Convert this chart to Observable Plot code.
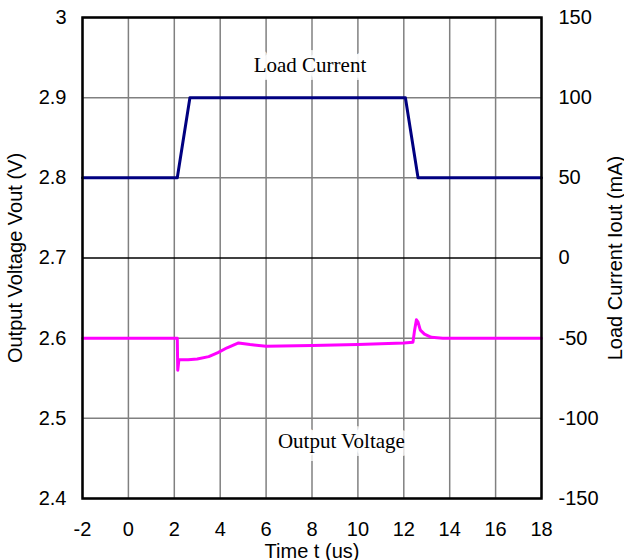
<!DOCTYPE html>
<html><head><meta charset="utf-8">
<script src="https://cdn.jsdelivr.net/npm/d3@7"></script>
<script src="https://cdn.jsdelivr.net/npm/@observablehq/plot@0.6"></script>
<style>body{margin:0;background:#fff}</style>
</head><body><div id="chart"></div>
<script>
// Load current (right axis, mA)
const currentT  = [-2, 2.13, 2.68, 12.07, 12.62, 18];
const currentMA = [50, 50, 100, 100, 50, 50];
// Output voltage (left axis, V)
const voltageT = [-2, 2.13, 2.15, 2.2, 2.6, 3.0, 3.5, 3.9, 4.3, 4.8, 5.3, 6.0, 8.0, 10.0, 12.0, 12.4, 12.47, 12.55, 12.62, 12.72, 12.9, 13.2, 13.7, 15, 18];
const voltageV = [2.600, 2.600, 2.560, 2.573, 2.573, 2.574, 2.577, 2.582, 2.588, 2.594, 2.592, 2.590, 2.591, 2.592, 2.594, 2.595, 2.610, 2.623, 2.620, 2.610, 2.605, 2.601, 2.600, 2.600, 2.600];
const xTicks = [-2, 0, 2, 4, 6, 8, 10, 12, 14, 16, 18];
const vTicks = [2.4, 2.5, 2.6, 2.7, 2.8, 2.9, 3.0];
const iTicks = [-150, -100, -50, 0, 50, 100, 150];
const labelNames = ["Load Current", "Output Voltage"];
const labelT = [7.91, 9.28];
const labelV = [2.940, 2.472];

const toV = i => 2.7 + i / 500;      // map mA onto the voltage scale
const toI = v => Math.round((v - 2.7) * 500);

const currentData = currentT.map((t, k) => ({t, v: toV(currentMA[k])}));
const voltageData = voltageT.map((t, k) => ({t, v: voltageV[k]}));
const labels = labelNames.map((s, k) => ({s, t: labelT[k], v: labelV[k]}));

const chart = Plot.plot({
  width: 624, height: 560,
  marginLeft: 82, marginRight: 83, marginTop: 17, marginBottom: 62,
  x: {domain: [-2, 18]},
  y: {domain: [2.4, 3.0]},
  style: {fontFamily: "'Liberation Sans', Arial, sans-serif", fontSize: "20px", color: "#000", background: "#fff"},
  marks: [
    Plot.ruleX(xTicks, {stroke: "#808080", strokeWidth: 1.5}),
    Plot.ruleY(vTicks.filter(d => Math.abs(d - 2.7) > 1e-9), {stroke: "#808080", strokeWidth: 1.5}),
    Plot.ruleY(vTicks.filter(d => Math.abs(d - 2.7) < 1e-9), {stroke: "#000", strokeWidth: 1.3}),
    Plot.text(labels, {x: "t", y: "v", text: "s", fontFamily: "'Liberation Serif', 'Times New Roman', serif", fontSize: 21,
      fill: "#000", stroke: "#fff", strokeWidth: 16, strokeOpacity: 0.75, textAnchor: "middle", lineAnchor: "middle"}),
    Plot.line(currentData, {x: "t", y: "v", stroke: "#000080", strokeWidth: 3}),
    Plot.line(voltageData, {x: "t", y: "v", stroke: "#ff00ff", strokeWidth: 3}),
    Plot.frame({stroke: "#000", strokeWidth: 2.5}),
    Plot.axisX(xTicks, {anchor: "bottom", tickSize: 0, tickPadding: 23, tickFormat: d => String(d),
      label: "Time t (us)", labelAnchor: "center", labelOffset: 59, labelArrow: "none"}),
    Plot.axisY(vTicks, {anchor: "left", tickSize: 0, tickPadding: 16, tickFormat: d => String(+d.toFixed(1)),
      label: "Output Voltage Vout (V)", labelAnchor: "center", labelOffset: 75, labelArrow: "none"}),
    Plot.axisY(iTicks.map(toV), {anchor: "right", tickSize: 0, tickPadding: 17, tickFormat: d => String(toI(d)),
      label: "Load Current Iout (mA)", labelAnchor: "center", labelOffset: 80, labelArrow: "none"})
  ]
});
document.getElementById("chart").appendChild(chart);
</script>
</body></html>
